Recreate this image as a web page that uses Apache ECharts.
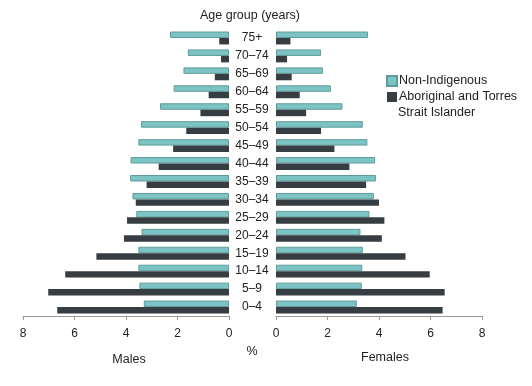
<!DOCTYPE html>
<html><head><meta charset="utf-8">
<script src="https://cdn.jsdelivr.net/npm/echarts@6/dist/echarts.min.js"></script>
<style>html,body{margin:0;padding:0;background:#fff}#c{width:532px;height:386px}</style>
</head><body><div id="c"></div>
<script>
const ageGroups = ['75+','70–74','65–69','60–64','55–59','50–54','45–49','40–44','35–39','30–34','25–29','20–24','15–19','10–14','5–9','0–4'];
const maleNonIndigenous = [2.29,1.6,1.77,2.15,2.68,3.42,3.52,3.82,3.84,3.75,3.6,3.4,3.52,3.52,3.48,3.31];
const maleIndigenous = [0.38,0.31,0.55,0.79,1.11,1.66,2.17,2.73,3.2,3.62,3.96,4.08,5.15,6.36,7.02,6.67];
const femaleNonIndigenous = [3.57,1.75,1.82,2.13,2.58,3.37,3.55,3.85,3.88,3.8,3.63,3.28,3.37,3.35,3.33,3.14];
const femaleIndigenous = [0.56,0.43,0.61,0.92,1.17,1.75,2.27,2.85,3.5,4.0,4.21,4.11,5.03,5.97,6.55,6.47];
const xTicks = [0,2,4,6,8];
const seriesNames = ['Non-Indigenous','Aboriginal and Torres Strait Islander'];

const FONT = 'Liberation Sans';
const teal = '#7cc4c3', tealBorder = '#5e9c9b', dark = '#363d43';
const chart = echarts.init(document.getElementById('c'), null, {renderer:'canvas'});
const axisCommon = {
  type:'value', min:xTicks[0], max:xTicks[xTicks.length-1], interval:2,
  splitLine:{show:false},
  axisLine:{show:true, lineStyle:{color:'#9a9a9a', width:1}},
  axisTick:{show:true, inside:false, length:4, lineStyle:{color:'#9a9a9a'}},
  axisLabel:{fontFamily:FONT, fontSize:12, color:'#222', margin:12}
};
const barCommon = {type:'bar', barGap:'0%', barCategoryGap:'28%'};
const txt = (s, x, y) => ({type:'text', x:x, y:y,
  style:{text:s, font:'12.5px "Liberation Sans"', fill:'#222', textAlign:'center', textVerticalAlign:'middle'}});
chart.setOption({
  animation:false,
  textStyle:{fontFamily:FONT},
  grid:[
    {left:23, top:29, width:206, height:287, containLabel:false},
    {left:276, top:29, width:206, height:287, containLabel:false}
  ],
  xAxis:[
    Object.assign({gridIndex:0, inverse:true}, axisCommon),
    Object.assign({gridIndex:1}, axisCommon)
  ],
  yAxis:[
    {type:'category', gridIndex:0, data:ageGroups, inverse:true, position:'right',
     axisLine:{show:false}, axisTick:{show:false},
     axisLabel:{fontFamily:FONT, fontSize:12, color:'#222', margin:23, align:'center'}},
    {type:'category', gridIndex:1, data:ageGroups, inverse:true,
     axisLine:{show:false}, axisTick:{show:false}, axisLabel:{show:false}}
  ],
  legend:{
    orient:'vertical', left:386, top:73, padding:0, itemWidth:10, itemHeight:10, itemGap:0,
    icon:'rect',
    formatter: n => n === seriesNames[1] ? 'Aboriginal and Torres' : n,
    textStyle:{fontFamily:FONT, fontSize:12.5, color:'#222', lineHeight:16, padding:[0,0,0,-3]},
    data:seriesNames
  },
  series:[
    Object.assign({name:seriesNames[0], xAxisIndex:0, yAxisIndex:0, data:maleNonIndigenous,
      itemStyle:{color:teal, borderColor:tealBorder, borderWidth:1}}, barCommon),
    Object.assign({name:seriesNames[1], xAxisIndex:0, yAxisIndex:0, data:maleIndigenous,
      itemStyle:{color:dark}}, barCommon),
    Object.assign({name:seriesNames[0], xAxisIndex:1, yAxisIndex:1, data:femaleNonIndigenous,
      itemStyle:{color:teal, borderColor:tealBorder, borderWidth:1}}, barCommon),
    Object.assign({name:seriesNames[1], xAxisIndex:1, yAxisIndex:1, data:femaleIndigenous,
      itemStyle:{color:dark}}, barCommon)
  ],
  graphic:[
    txt('Age group (years)', 250, 16),
    txt('%', 252, 352),
    txt('Males', 129, 360),
    txt('Females', 385, 358),
    {type:'text', x:398, y:113, style:{text:'Strait Islander', font:'12.5px "Liberation Sans"', fill:'#222', textAlign:'left', textVerticalAlign:'middle'}}
  ]
});
</script></body></html>
